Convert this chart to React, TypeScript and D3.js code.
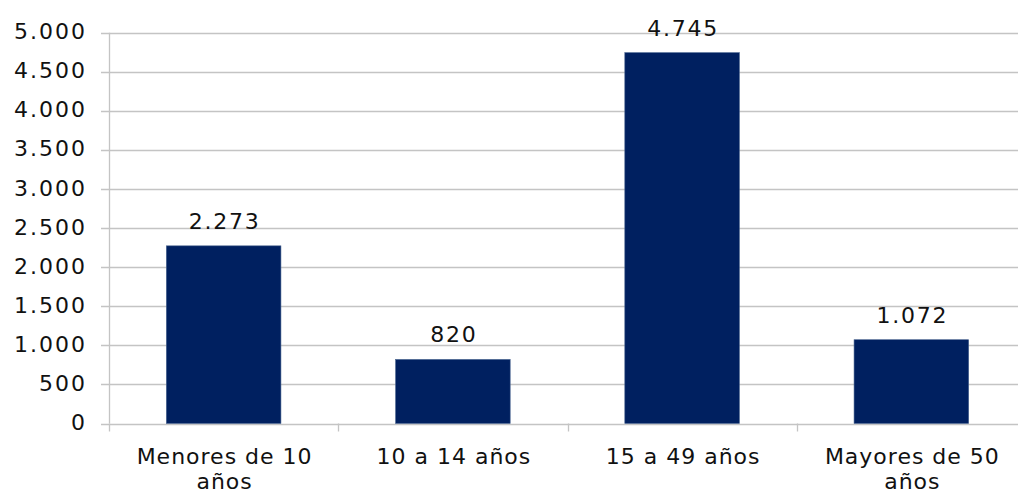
import React, { useEffect, useRef } from 'react';
import * as d3 from 'd3';

// datos del gráfico
const categories = [['Menores de 10', 'años'], ['10 a 14 años'], ['15 a 49 años'], ['Mayores de 50', 'años']];
const values = [2273, 820, 4745, 1072];
const yTicks = [0, 500, 1000, 1500, 2000, 2500, 3000, 3500, 4000, 4500, 5000];

const fmt = (v: number) => d3.format(',')(v).replace(/,/g, '.');

const App = () => {
    const svgRef = useRef(null);

    useEffect(() => {
        const svg = d3.select(svgRef.current);
        svg.selectAll('*').remove();

        const width = 1018;
        const height = 493;
        const margin = { top: 32.7, left: 109, bottom: 69.5 };
        const plotRight = 1026; // el área del gráfico continúa más allá del borde
        const font = '"DejaVu Sans", sans-serif';
        const gridColor = '#c4c4c4';

        const x = d3.scaleBand<number>()
            .domain(categories.map((_, i) => i))
            .range([margin.left, plotRight])
            .paddingInner(0.5)
            .paddingOuter(0.25);

        const y = d3.scaleLinear()
            .domain([0, 5000])
            .range([height - margin.bottom, margin.top]);

        // líneas de cuadrícula y etiquetas del eje y
        const yg = svg.append('g');
        yTicks.forEach(t => {
            yg.append('line')
                .attr('x1', margin.left - 8)
                .attr('x2', width)
                .attr('y1', Math.round(y(t)) + 0.5)
                .attr('y2', Math.round(y(t)) + 0.5)
                .attr('stroke', gridColor)
                .attr('stroke-width', 1.3);
            yg.append('text')
                .attr('x', 87)
                .attr('y', y(t) - 1)
                .attr('text-anchor', 'end')
                .attr('dominant-baseline', 'central')
                .attr('font-family', font)
                .attr('font-size', 22)
                .attr('letter-spacing', 2)
                .attr('fill', '#111')
                .text(fmt(t));
        });

        // eje vertical
        svg.append('line')
            .attr('x1', margin.left + 0.5)
            .attr('x2', margin.left + 0.5)
            .attr('y1', y(5000))
            .attr('y2', y(0))
            .attr('stroke', gridColor)
            .attr('stroke-width', 1.3);

        // marcas de categoría
        const step = x.step();
        for (let i = 0; i <= categories.length; i++) {
            const px = Math.round(margin.left + i * step) + 0.5;
            svg.append('line')
                .attr('x1', px)
                .attr('x2', px)
                .attr('y1', y(0))
                .attr('y2', y(0) + 8)
                .attr('stroke', gridColor)
                .attr('stroke-width', 1.3);
        }

        // barras
        svg.append('g')
            .selectAll('rect')
            .data(values)
            .join('rect')
            .attr('x', (_, i) => x(i)!)
            .attr('y', d => y(d))
            .attr('width', x.bandwidth())
            .attr('height', d => y(0) - y(d))
            .attr('fill', '#002060')
            .attr('stroke', '#4a6590')
            .attr('stroke-width', 0.6);

        // etiquetas de valores
        svg.append('g')
            .selectAll('text')
            .data(values)
            .join('text')
            .attr('x', (_, i) => x(i)! + x.bandwidth() / 2 + 1)
            .attr('y', d => y(d) - 17)
            .attr('text-anchor', 'middle')
            .attr('font-family', font)
            .attr('font-size', 22)
            .attr('letter-spacing', 1.8)
            .attr('fill', '#111')
            .text(d => fmt(d));

        // etiquetas de categorías
        categories.forEach((lines, i) => {
            const t = svg.append('text')
                .attr('x', x(i)! + x.bandwidth() / 2 + 1)
                .attr('y', 464)
                .attr('text-anchor', 'middle')
                .attr('font-family', font)
                .attr('font-size', 22)
                .attr('letter-spacing', 1)
                .attr('fill', '#111');
            lines.forEach((l, j) => {
                t.append('tspan')
                    .attr('x', x(i)! + x.bandwidth() / 2 + 1)
                    .attr('dy', j === 0 ? 0 : 25)
                    .text(l);
            });
        });
    }, []);

    return (
        <svg ref={svgRef} width={1018} height={493} style={{ position: 'absolute', left: 0, top: 0, background: '#fff' }} />
    );
};

export default App;
